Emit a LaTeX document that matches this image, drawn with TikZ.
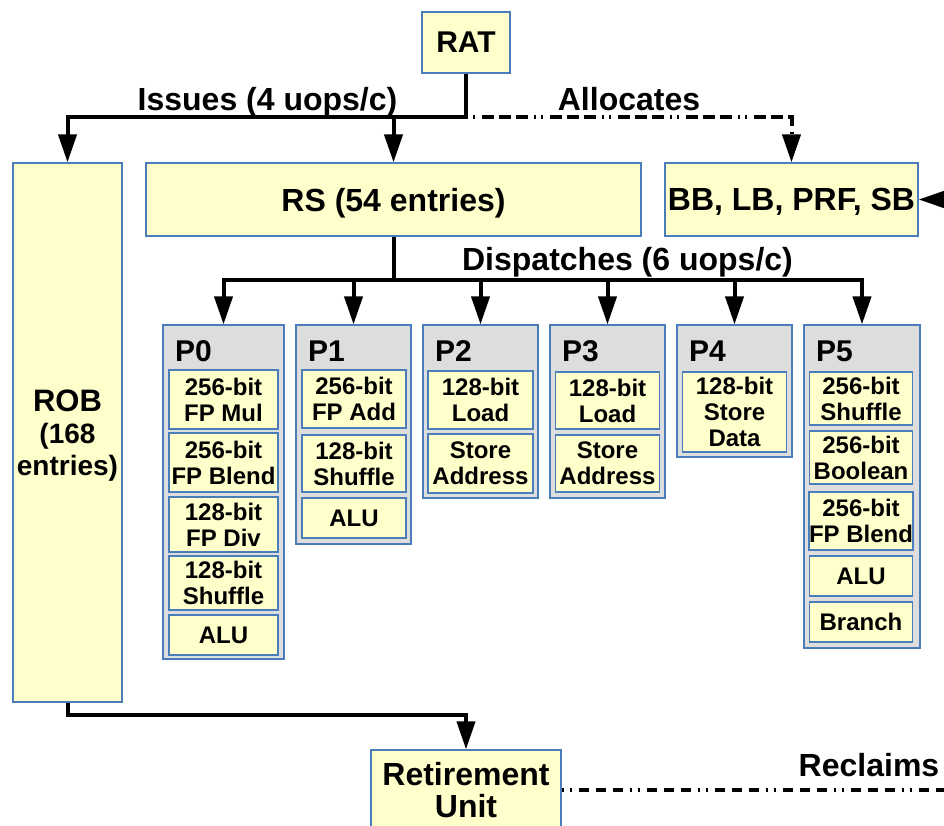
\documentclass[tikz,border=0pt]{standalone}
\usepackage{fontspec}
\setmainfont{Liberation Sans}
\usetikzlibrary{arrows.meta}
\definecolor{boxfill}{HTML}{FFFFCC}
\definecolor{boxline}{HTML}{4A7EBB}
\definecolor{portfill}{HTML}{DDDDDD}
\begin{document}
\begin{tikzpicture}[x=1pt,y=-1pt,
  ybox/.style={draw=boxline, fill=boxfill, line width=1.2pt, inner sep=0pt, align=center},
  portbox/.style={draw=boxline, fill=portfill, line width=1.2pt, inner sep=0pt},
  unitbox/.style={ybox, font=\bfseries\fontsize{24}{26}\selectfont},
  bigtxt/.style={font=\bfseries\fontsize{32}{32}\selectfont},
  plabel/.style={font=\bfseries\fontsize{30}{30}\selectfont, inner sep=0pt, anchor=base west},
  lbl/.style={font=\bfseries\fontsize{32}{32}\selectfont, inner sep=0pt, anchor=base},
  flow/.style={line width=4pt},
  arr/.style={line width=4pt, -{Triangle[length=28pt,width=18pt]}},
  alloc/.style={line width=4pt, dash pattern=on 2pt off 5pt on 2pt off 7pt on 12pt off 5pt on 12pt off 5pt on 12pt off 6pt, -{Triangle[length=28pt,width=18pt]}},
  reclaim/.style={line width=3.3pt, dash pattern=on 2pt off 6pt on 2pt off 7pt on 10pt off 7pt on 10pt off 7pt on 10pt off 7pt},
]
\useasboundingbox (0,0) rectangle (944,825);

% main boxes
\node[ybox, font=\bfseries\fontsize{30}{30}\selectfont, minimum width=88pt, minimum height=61pt] (RAT) at (466,42.5) {RAT};
\node[ybox, bigtxt, text depth=0pt, minimum width=495pt, minimum height=73pt] (RS) at (393.5,199.5) {RS (54 entries)};
\node[ybox, bigtxt, text depth=0pt, minimum width=253pt, minimum height=73pt] (BB) at (791.5,199.5) {BB, LB, PRF, SB};
\node[ybox, font=\bfseries\fontsize{28}{32}\selectfont, text depth=0pt, minimum width=109pt, minimum height=539pt] (ROB) at (67.5,432.5) {{\fontsize{31}{32}\selectfont ROB}\\(168\\entries)};
\node[ybox, bigtxt, minimum width=190pt, minimum height=80pt] (Ret) at (466,790) {Retirement\\Unit};

% ports
\node[portbox, minimum width=121pt, minimum height=334pt] (P0) at (223.5,492) {};
\node[portbox, minimum width=115pt, minimum height=219pt] (P1) at (353.5,434.5) {};
\node[portbox, minimum width=115pt, minimum height=173pt] (P2) at (480.5,411.5) {};
\node[portbox, minimum width=115pt, minimum height=173pt] (P3) at (607.5,411.5) {};
\node[portbox, minimum width=115pt, minimum height=132pt] (P4) at (734.5,391) {};
\node[portbox, minimum width=116pt, minimum height=323pt] (P5) at (862,486.5) {};

\node[plabel] (P0l) at (175,361) {P0};
\node[plabel] (P1l) at (308,361) {P1};
\node[plabel] (P2l) at (435,361) {P2};
\node[plabel] (P3l) at (562,361) {P3};
\node[plabel] (P4l) at (689,361) {P4};
\node[plabel] (P5l) at (816,361) {P5};

% P0 units
\node[unitbox, minimum width=109pt, minimum height=59pt] (P0a) at (223.5,399.5) {256-bit\\FP Mul};
\node[unitbox, minimum width=109pt, minimum height=59pt] (P0b) at (223.5,462.5) {256-bit\\FP Blend};
\node[unitbox, minimum width=109pt, minimum height=55pt] (P0c) at (223.5,524.5) {128-bit\\FP Div};
\node[unitbox, minimum width=109pt, minimum height=54pt] (P0d) at (223.5,583) {128-bit\\Shuffle};
\node[unitbox, minimum width=109pt, minimum height=40pt] (P0e) at (223.5,635) {ALU};
% P1 units
\node[unitbox, minimum width=104pt, minimum height=58pt] (P1a) at (354,399) {256-bit\\FP Add};
\node[unitbox, minimum width=104pt, minimum height=57pt] (P1b) at (354,463.5) {128-bit\\Shuffle};
\node[unitbox, minimum width=104pt, minimum height=40pt] (P1c) at (354,518) {ALU};
% P2 units
\node[unitbox, minimum width=105pt, minimum height=58pt] (P2a) at (480.5,400) {128-bit\\Load};
\node[unitbox, minimum width=105pt, minimum height=59pt] (P2b) at (480.5,463.5) {Store\\Address};
% P3 units
\node[unitbox, minimum width=104pt, minimum height=57pt] (P3a) at (607.5,400.5) {128-bit\\Load};
\node[unitbox, minimum width=104pt, minimum height=57pt] (P3b) at (607.5,463.5) {Store\\Address};
% P4 units
\node[unitbox, minimum width=104pt, minimum height=80pt] (P4a) at (734.5,412) {128-bit\\Store\\Data};
% P5 units
\node[unitbox, minimum width=103pt, minimum height=53pt] (P5a) at (861,398.5) {256-bit\\Shuffle};
\node[unitbox, minimum width=103pt, minimum height=53pt] (P5b) at (861,457.5) {256-bit\\Boolean};
\node[unitbox, minimum width=103pt, minimum height=58pt] (P5c) at (861,521) {256-bit\\FP Blend};
\node[unitbox, minimum width=103pt, minimum height=40pt] (P5d) at (861,576) {ALU};
\node[unitbox, minimum width=103pt, minimum height=40pt] (P5e) at (861,622) {Branch};

% issue connectors
\coordinate (iss) at (466,117);
\draw[flow] (RAT.south) -- (iss);
\draw[arr] (iss) -| (ROB.north);
\draw[arr] (iss) -| (RS.north);
\draw[alloc] (iss) -| (BB.north);
\node[lbl] (issl) at (267.5,110) {Issues (4 uops/c)};
\node[lbl] (alll) at (629,110) {Allocates};

% incoming arrow into BB from the right
\coordinate (bbin) at (960,199.5);
\draw[arr] (bbin) -- (BB.east);

% dispatch
\coordinate (dsp) at (393.5,280);
\draw[flow] (RS.south) -- (dsp);
\draw[arr] (dsp) -| (P0.north);
\draw[arr] (dsp) -| (P1.north);
\draw[arr] (dsp) -| (P2.north);
\draw[arr] (dsp) -| (P3.north);
\draw[arr] (dsp) -| (P4.north);
\draw[arr] (dsp) -| (P5.north);
\node[lbl] (dspl) at (627.5,270) {Dispatches (6 uops/c)};

% retirement
\draw[arr] (ROB.south) -- ++(0,12) -| (Ret.north);
\coordinate (recl) at (960,790);
\draw[reclaim] (Ret.east) -- (recl);
\node[lbl] (recll) at (869,776) {Reclaims};
\end{tikzpicture}
\end{document}
